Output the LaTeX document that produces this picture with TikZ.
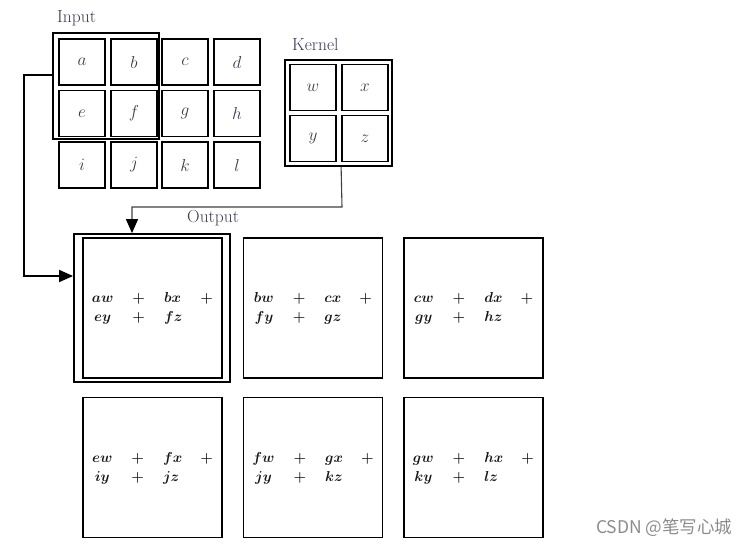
\documentclass[tikz,border=0pt]{standalone}
\usepackage{amsmath}
\usepackage{fontspec}
\newfontfamily\cjkfont{Noto Sans CJK SC}
\usetikzlibrary{arrows.meta,calc}
\definecolor{lblcol}{HTML}{3A3A55}
\definecolor{lettercol}{HTML}{3C3C50}
\definecolor{wmcol}{HTML}{8C8C8C}
\tikzset{
  cell/.style={draw=black,line width=1.8pt,minimum width=46pt,minimum height=46pt,inner sep=0pt,
    font=\fontsize{16}{18}\selectfont,text=lettercol},
  frame/.style={draw=black,line width=1.8pt,inner sep=0pt},
  outcell/.style={draw=black,line width=1.8pt,minimum width=139pt,minimum height=140pt,inner sep=0pt,
    font=\fontsize{14.5}{21}\selectfont,text=black!90},
  title/.style={anchor=west,inner sep=0pt,font=\fontsize{17.5}{20}\selectfont,text=lblcol},
  conn/.style={line width=1.6pt,-{Triangle[length=14pt,width=12pt]}},
  kconn/.style={line width=1.1pt,draw=black!75,-{Triangle[length=14pt,width=12pt,color=black,fill=black]}},
}
\newcommand{\sumtab}[4]{\begin{tabular}{@{}c@{\hspace{19pt}}c@{\hspace{19pt}}l@{\hspace{18pt}}c@{}}$\boldsymbol{#1}$ & $\boldsymbol{+}$ & $\boldsymbol{#2}$ & $\boldsymbol{+}$\\[-2pt] $\boldsymbol{#3}$ & $\boldsymbol{+}$ & $\boldsymbol{#4}$ & \end{tabular}}
\begin{document}
\begin{tikzpicture}[x=1pt,y=-1pt]
\useasboundingbox (0,0) rectangle (749,547);
% Input
\node[title] (inlbl) at (57,18) {Input};
\foreach \l/\cx/\cy in {a/82/62,b/134/62,c/185/62,d/237/62,e/82/113.5,f/134/113.5,g/185/113.5,h/237/113.5,i/82/165,j/134/165,k/185/165,l/237/165}
  \node[cell] (in\l) at (\cx,\cy) {$\l$};
\node[frame,minimum width=106pt,minimum height=106pt] (win) at (106,86) {};
% Kernel
\node[title] (klbl) at (292,44) {Kernel};
\node[frame,minimum width=107pt,minimum height=106pt] (kernel) at (338.5,113) {};
\foreach \l/\cx/\cy in {w/313/87.5,x/365/87.5,y/313/138.5,z/365/138.5}
  \node[cell] (k\l) at (\cx,\cy) {$\l$};
% Output
\node[title] (outlbl) at (187,218) {Output};
\node[frame,minimum width=156pt,minimum height=148pt] (outer) at (152,308) {};
\node[outcell] (o1) at (152.5,308) {\sumtab{aw}{bx}{ey}{fz}};
\node[outcell] (o2) at (313,308) {\sumtab{bw}{cx}{fy}{gz}};
\node[outcell] (o3) at (473.5,308) {\sumtab{cw}{dx}{gy}{hz}};
\node[outcell] (o4) at (152.5,467.5) {\sumtab{ew}{fx}{iy}{jz}};
\node[outcell] (o5) at (313,467.5) {\sumtab{fw}{gx}{jy}{kz}};
\node[outcell] (o6) at (473.5,467.5) {\sumtab{gw}{hx}{ky}{lz}};
% connectors
\coordinate (winout) at ($(win.west)+(0,-11)$);
\coordinate (leftbend) at (24,75);
\draw[conn] (winout) -- (leftbend) |- ([yshift=32pt]outer.west);
\coordinate (kstart) at (kernel.south -| kz.west);
\coordinate (kbend) at (342,207);
\coordinate (kdrop) at (132,207);
\draw[kconn] (kstart) -- (kbend) -- (kdrop) -- (kdrop |- outer.north);
% watermark
\node[anchor=west,inner sep=0pt,text=wmcol,font=\cjkfont\fontsize{17.5}{20}\selectfont] (wm) at (596,528) {CSDN @笔写心城};
\end{tikzpicture}
\end{document}
